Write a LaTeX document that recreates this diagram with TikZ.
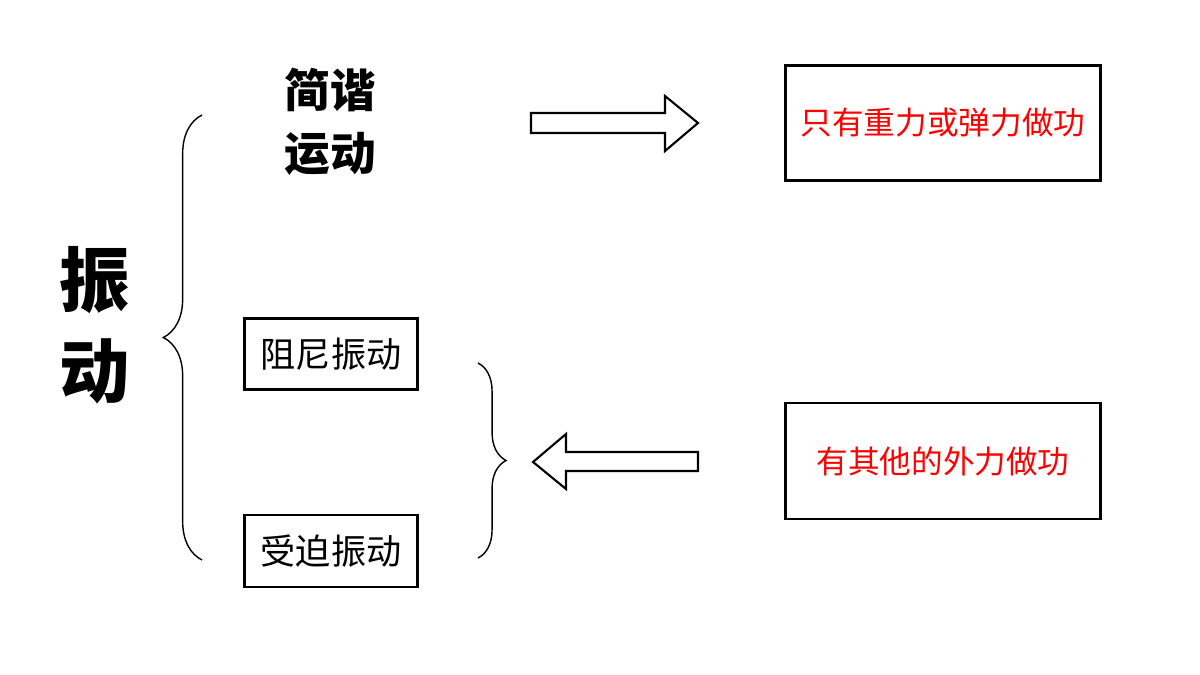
\documentclass[tikz,border=0pt]{standalone}
\usepackage{fontspec}
\newfontfamily\cjk{Noto Sans CJK SC}
\usetikzlibrary{decorations.pathreplacing}
\tikzset{
  box/.style={draw,line width=1.2pt,minimum height=#1,inner sep=0pt},
  redtxt/.style={text=red,font=\cjk\fontsize{18}{20}\selectfont},
  hollow/.style={draw,line width=1.2pt,fill=white},
  brc/.style={decorate,decoration={brace,amplitude=#1},line width=0.8pt}
}
\begin{document}
\begin{tikzpicture}[x=0.02cm,y=-0.02cm,font=\cjk]
\useasboundingbox (0,0) rectangle (1200,675);
% main title and brace
\node[font=\cjk\bfseries\fontsize{40}{52}\selectfont,align=center] (zd) at (95,325) {振\\动};
\coordinate (b1) at (202,115);
\coordinate (b2) at (202,560);
\draw[brc=22pt] (b2) -- (b1);
\node[font=\cjk\bfseries\fontsize{26}{36}\selectfont,align=center] (jx) at (330,122) {简谐\\运动};
\node[box=71*0.02cm,minimum width=173*0.02cm,font=\cjk\fontsize{20}{22}\selectfont] (zn) at (331,354) {阻尼振动};
\node[box=72*0.02cm,minimum width=173*0.02cm,font=\cjk\fontsize{20}{22}\selectfont] (sp) at (331,551) {受迫振动};
\node[box=115*0.02cm,minimum width=315*0.02cm,redtxt] (r1) at (943,123) {只有重力或弹力做功};
\node[box=116*0.02cm,minimum width=315*0.02cm,redtxt] (r2) at (943,461) {有其他的外力做功};
% right brace
\coordinate (c1) at (478,363);
\coordinate (c2) at (478,558);
\draw[brc=16pt] (c1) -- (c2);
% hollow arrows
\draw[hollow] (531,113) -- (665,113) -- (665,96) -- (698,123) -- (665,151) -- (665,133) -- (531,133) -- cycle;
\draw[hollow] (698,452) -- (566,452) -- (566,434) -- (533,462) -- (566,489) -- (566,471) -- (698,471) -- cycle;
\end{tikzpicture}
\end{document}
